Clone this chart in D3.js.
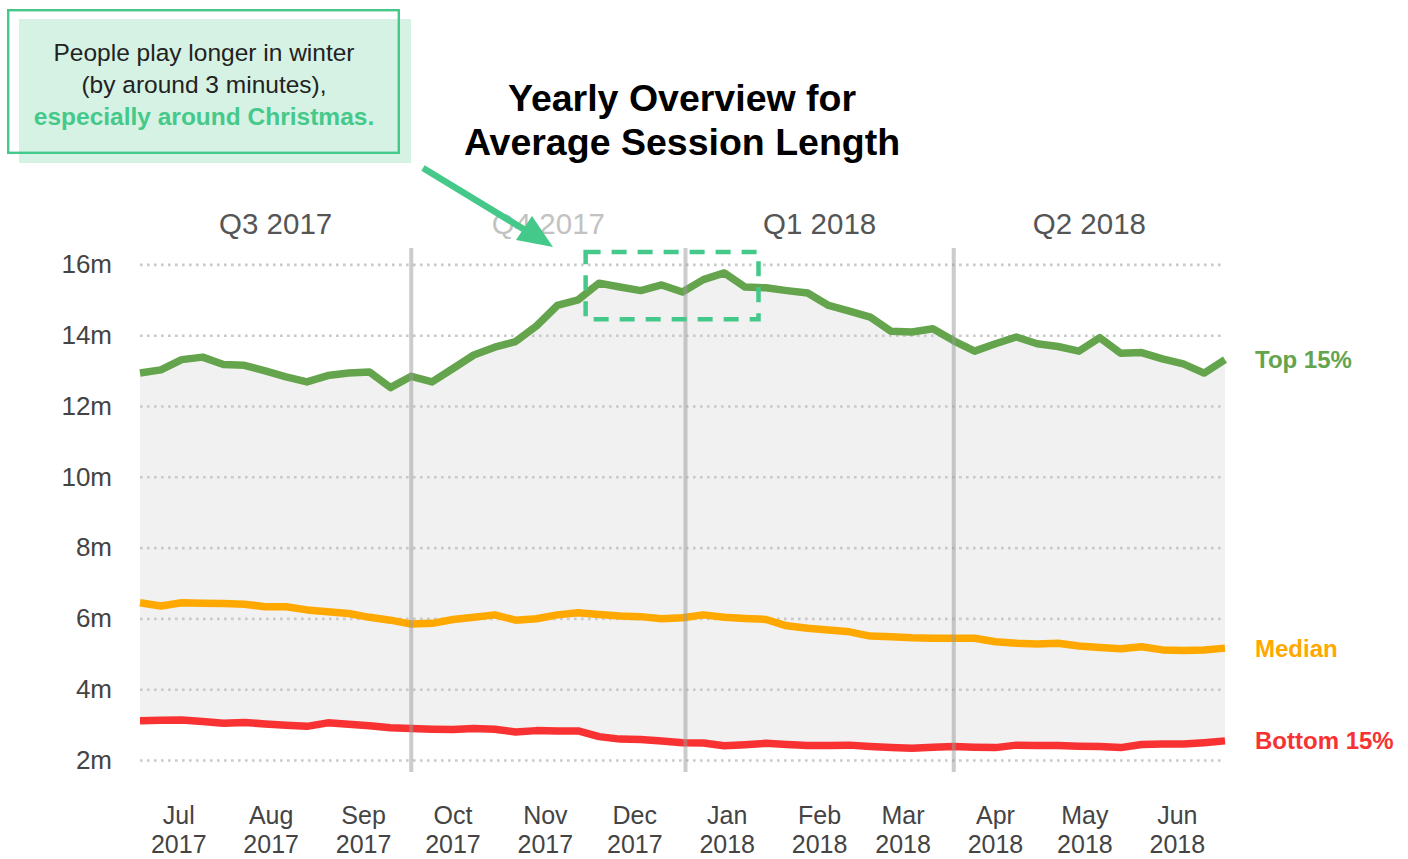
<!DOCTYPE html>
<html>
<head>
<meta charset="utf-8">
<script src="https://cdn.jsdelivr.net/npm/d3@7"></script>
<style>
  html, body { margin: 0; padding: 0; background: #fff; }
  svg { display: block; font-family: "Liberation Sans", Arial, sans-serif; }
</style>
</head>
<body>
<svg id="chart" width="1408" height="859"></svg>
<script>
// ---------- DATA ----------
const startDate = "2017-07-02";           // first weekly data point
const weeks = 53;                          // weekly points
const top15 = [12.93, 13.02, 13.31, 13.38, 13.17, 13.15, 12.99, 12.82, 12.68, 12.86,
               12.93, 12.96, 12.52, 12.84, 12.68, 13.06, 13.44, 13.66, 13.82, 14.26,
               14.84, 15.00, 15.47, 15.36, 15.26, 15.42, 15.22, 15.57, 15.76, 15.36,
               15.34, 15.26, 15.19, 14.84, 14.68, 14.51, 14.11, 14.09, 14.18, 13.84,
               13.55, 13.76, 13.95, 13.76, 13.68, 13.55, 13.93, 13.49, 13.51, 13.33,
               13.19, 12.93, 13.31];
const median = [6.44, 6.35, 6.44, 6.43, 6.42, 6.40, 6.33, 6.33, 6.24, 6.19,
                6.14, 6.03, 5.95, 5.84, 5.86, 5.97, 6.03, 6.10, 5.95, 5.99,
                6.10, 6.16, 6.11, 6.07, 6.05, 5.99, 6.02, 6.10, 6.03, 6.00,
                5.97, 5.79, 5.72, 5.67, 5.62, 5.50, 5.48, 5.45, 5.44, 5.44,
                5.44, 5.34, 5.30, 5.28, 5.30, 5.22, 5.18, 5.14, 5.20, 5.11,
                5.09, 5.11, 5.16];
const bottom15 = [3.11, 3.12, 3.13, 3.09, 3.04, 3.06, 3.02, 2.98, 2.95, 3.05,
                  3.01, 2.97, 2.91, 2.89, 2.87, 2.86, 2.89, 2.87, 2.79, 2.83,
                  2.82, 2.82, 2.66, 2.59, 2.58, 2.54, 2.49, 2.48, 2.40, 2.43,
                  2.47, 2.44, 2.41, 2.41, 2.42, 2.38, 2.35, 2.33, 2.36, 2.38,
                  2.36, 2.35, 2.42, 2.41, 2.41, 2.39, 2.38, 2.35, 2.44, 2.45,
                  2.45, 2.49, 2.54];
const yTicks = [2, 4, 6, 8, 10, 12, 14, 16];
const monthTicks = ["2017-07-15", "2017-08-15", "2017-09-15", "2017-10-15", "2017-11-15", "2017-12-15",
                    "2018-01-15", "2018-02-15", "2018-03-15", "2018-04-15", "2018-05-15", "2018-06-15"];
const quarterStarts = ["2017-07-02", "2017-10-01", "2018-01-01", "2018-04-01", "2018-07-01"];
const quarterLabels = ["Q3 2017", "Q4 2017", "Q1 2018", "Q2 2018"];
const seriesNames = ["Top 15%", "Median", "Bottom 15%"];
const highlight = { from: "2017-11-28T12:00:00Z", to: "2018-01-25T12:00:00Z", lo: 14.45, hi: 16.35 };
const noteLines = ["People play longer in winter", "(by around 3 minutes),", "especially around Christmas."];
const titleLines = ["Yearly Overview for", "Average Session Length"];

// ---------- SETUP ----------
const parse = s => new Date(s.length > 10 ? s : s + "T00:00:00Z");
const dates = d3.range(weeks).map(i => d3.utcDay.offset(parse(startDate), i * 7));
const data = dates.map((d, i) => ({ date: d, top: top15[i], med: median[i], bot: bottom15[i] }));

const svg = d3.select("#chart");
const x = d3.scaleUtc().domain([dates[0], dates[dates.length - 1]]).range([140, 1225]);
const y = d3.scaleLinear().domain([2, 16]).range([760, 264.4]);

const colors = { top: "#64a44c", med: "#ffa800", bot: "#f83232" };
const accent = "#45c98a";

// area between top and bottom
svg.append("path")
  .datum(data)
  .attr("fill", "#f1f1f1")
  .attr("d", d3.area().x(d => x(d.date)).y0(d => y(d.bot)).y1(d => y(d.top)));

// dotted gridlines
const grid = svg.append("g").attr("transform", `translate(${x.range()[0]},0)`)
  .call(d3.axisLeft(y).tickValues(yTicks).tickSize(-(x.range()[1] - x.range()[0])).tickFormat(""));
grid.select(".domain").remove();
grid.selectAll("line").attr("stroke", "#c9c9c9").attr("stroke-width", 2.6).attr("stroke-dasharray", "2.6,4.4");

// y axis labels
const yAxis = svg.append("g").attr("transform", "translate(112,0)")
  .call(d3.axisLeft(y).tickValues(yTicks).tickSize(0).tickPadding(0).tickFormat(d => d + "m"));
yAxis.select(".domain").remove();
yAxis.selectAll("text").attr("fill", "#444").attr("font-size", 26)
  .attr("font-family", "Liberation Sans, Arial, sans-serif");

// lines
const lineGen = key => d3.line().x(d => x(d.date)).y(d => y(d[key]));
["bot", "med", "top"].forEach(k => {
  svg.append("path").datum(data)
    .attr("fill", "none").attr("stroke", colors[k]).attr("stroke-width", 7.5)
    .attr("stroke-linejoin", "round").attr("d", lineGen(k));
});

// quarter separators
svg.selectAll(".qline").data(quarterStarts.slice(1, 4)).enter().append("line")
  .attr("x1", d => x(parse(d))).attr("x2", d => x(parse(d)))
  .attr("y1", 248).attr("y2", 772)
  .attr("stroke", "#999").attr("stroke-opacity", 0.5).attr("stroke-width", 4);

// quarter labels
svg.selectAll(".qlabel").data(quarterLabels).enter().append("text")
  .attr("x", (d, i) => (x(parse(quarterStarts[i])) + x(parse(quarterStarts[i + 1]))) / 2)
  .attr("y", 234).attr("text-anchor", "middle").attr("font-size", 29.5)
  .attr("fill", (d, i) => i === 1 ? "#c2c2c2" : "#555").text(d => d);

// month labels
const fmtM = d3.utcFormat("%b"), fmtY = d3.utcFormat("%Y");
const mt = svg.selectAll(".mlabel").data(monthTicks.map(parse)).enter().append("text")
  .attr("text-anchor", "middle").attr("font-size", 25).attr("fill", "#444");
mt.append("tspan").attr("x", d => x(d)).attr("y", 824).text(d => fmtM(d));
mt.append("tspan").attr("x", d => x(d)).attr("y", 853).text(d => fmtY(d));

// series labels
const last = data[data.length - 1];
[["top", 0], ["med", 1], ["bot", 2]].forEach(([k, i]) => {
  svg.append("text").attr("x", 1255).attr("y", y(last[k]) + 8.5)
    .attr("font-size", 24).attr("font-weight", "bold").attr("fill", colors[k]).text(seriesNames[i]);
});

// highlight rectangle
svg.append("rect")
  .attr("x", x(parse(highlight.from))).attr("y", y(highlight.hi))
  .attr("width", x(parse(highlight.to)) - x(parse(highlight.from)))
  .attr("height", y(highlight.lo) - y(highlight.hi))
  .attr("fill", "none").attr("stroke", accent).attr("stroke-width", 4.5)
  .attr("stroke-dasharray", "15,11");

// arrow
svg.append("line").attr("x1", 423).attr("y1", 168).attr("x2", 530).attr("y2", 233)
  .attr("stroke", accent).attr("stroke-width", 6.5);
svg.append("polygon").attr("points", "553,247 516,240 532,216").attr("fill", accent);

// title
const title = svg.append("text").attr("text-anchor", "middle").attr("font-size", 37.5)
  .attr("font-weight", "bold").attr("fill", "#000");
titleLines.forEach((t, i) => title.append("tspan").attr("x", 682).attr("y", 111 + i * 44).text(t));

// note box
svg.append("rect").attr("x", 19).attr("y", 19).attr("width", 392).attr("height", 144).attr("fill", "#d6f2e4");
svg.append("rect").attr("x", 8.2).attr("y", 10.2).attr("width", 390.6).attr("height", 142.6)
  .attr("fill", "none").attr("stroke", accent).attr("stroke-width", 2.4);
noteLines.forEach((t, i) => {
  svg.append("text").attr("x", 204).attr("y", 61 + i * 31.8).attr("text-anchor", "middle")
    .attr("font-size", 24.5)
    .attr("font-weight", i === 2 ? "bold" : "normal")
    .attr("fill", i === 2 ? accent : "#222").text(t);
});
</script>
</body>
</html>
